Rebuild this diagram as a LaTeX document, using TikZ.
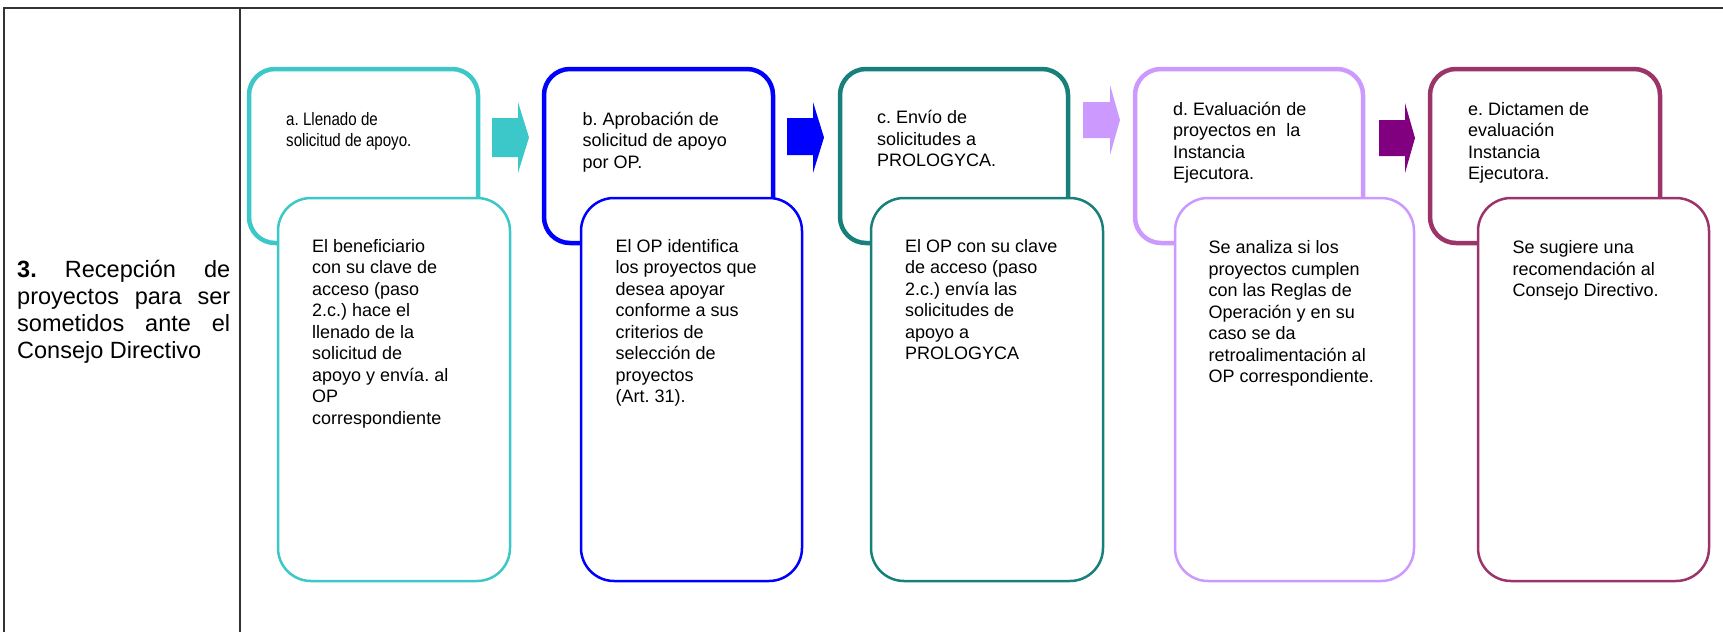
\documentclass[tikz,border=0pt]{standalone}
\usepackage{fontspec}
\setmainfont{Liberation Sans}
\newfontfamily\narrowsans[FakeStretch=0.84]{Liberation Sans}
\definecolor{cTurq}{RGB}{60,200,200}
\definecolor{cBlue}{RGB}{0,0,255}
\definecolor{cTeal}{RGB}{24,128,122}
\definecolor{cLilac}{RGB}{204,153,255}
\definecolor{cPurple}{RGB}{128,0,128}
\definecolor{cMaroon}{RGB}{155,52,104}
\frenchspacing
\begin{document}
\begin{tikzpicture}[x=1pt, y=-1pt,
    topbox/.style={line width=4.5pt, rounded corners=26pt, fill=white},
    subbox/.style={line width=2.5pt, rounded corners=33pt, fill=white},
    steptext/.style={anchor=north west, inner sep=0pt, align=left,
        font=\fontsize{18}{21.5}\selectfont, execute at begin node=\rule{0pt}{17pt}},
    tableline/.style={line width=2pt, draw=black!80}]
        \useasboundingbox (0,0) rectangle (1723,632);
        % table row
        \draw[tableline] (3,8) -- (1723,8);
        \draw[tableline] (4,8) -- (4,632);
        \draw[tableline] (240,8) -- (240,632);
        \node[anchor=north west, inner sep=0pt, text width=213pt, align=justify,
            font=\fontsize{23.5}{27}\selectfont] (etapa) at (17,255)
            {\rule{0pt}{22pt}\textbf{3.} Recepción de\linebreak proyectos para ser\linebreak sometidos ante el\linebreak Consejo Directivo};
        % a. llenado
        \draw[topbox, draw=cTurq] (249,69) rectangle (478,243);
        \draw[subbox, draw=cTurq] (278,198) rectangle (510,581);
        \node[steptext, font=\narrowsans\fontsize{18}{21.5}\selectfont] (llenado) at (286,112)
            {a. Llenado de\\solicitud de apoyo.};
        \node[steptext] (llenadoTxt) at (312,239)
            {El beneficiario\\con su clave de\\acceso (paso\\2.c.) hace el\\llenado de la\\solicitud de\\apoyo y envía. al\\OP\\correspondiente};
        \fill[cTurq] (492,118) -- (518,118) -- (518,102) -- (529,137.5) -- (518,173) -- (518,157) -- (492,157) -- cycle;
        % b. aprobacion
        \draw[topbox, draw=cBlue] (544,69) rectangle (773,243);
        \draw[subbox, draw=cBlue] (581,198) rectangle (802,581);
        \node[steptext] (aprobacion) at (582.5,112)
            {b. Aprobación de\\solicitud de apoyo\\por OP.};
        \node[steptext] (aprobacionTxt) at (615.5,239)
            {El OP identifica\\los proyectos que\\desea apoyar\\conforme a sus\\criterios de\\selección de\\proyectos\\(Art. 31).};
        \fill[cBlue] (787,118) -- (813,118) -- (813,102) -- (824,137.5) -- (813,173) -- (813,155) -- (787,155) -- cycle;
        % c. envio
        \draw[topbox, draw=cTeal] (840,69) rectangle (1068,243);
        \draw[subbox, draw=cTeal] (871,198) rectangle (1103,581);
        \node[steptext] (envio) at (877,110.5)
            {c. Envío de\\solicitudes a\\PROLOGYCA.};
        \node[steptext] (envioTxt) at (905,239)
            {El OP con su clave\\de acceso (paso\\2.c.) envía las\\solicitudes de\\apoyo a\\PROLOGYCA};
        \fill[cLilac] (1083,102) -- (1110,102) -- (1110,85) -- (1120,120) -- (1110,155) -- (1110,138) -- (1083,138) -- cycle;
        % d. evaluacion
        \draw[topbox, draw=cLilac] (1135,69) rectangle (1363,243);
        \draw[subbox, draw=cLilac] (1175,198) rectangle (1414,581);
        \node[steptext] (evaluacion) at (1173,102)
            {d. Evaluación de\\proyectos en\ \ la\\Instancia\\Ejecutora.};
        \node[steptext] (evaluacionTxt) at (1208.5,240.5)
            {Se analiza si los\\proyectos cumplen\\con las Reglas de\\Operación y en su\\caso se da\\retroalimentación al\\OP correspondiente.};
        \fill[cPurple] (1379,120) -- (1405,120) -- (1405,103) -- (1415,138) -- (1405,173) -- (1405,156) -- (1379,156) -- cycle;
        % e. dictamen
        \draw[topbox, draw=cMaroon] (1430,69) rectangle (1660,243);
        \draw[subbox, draw=cMaroon] (1478,198) rectangle (1709,581);
        \node[steptext] (dictamen) at (1468,102)
            {e. Dictamen de\\evaluación\\Instancia\\Ejecutora.};
        \node[steptext] (dictamenTxt) at (1512.5,240.5)
            {Se sugiere una\\recomendación al\\Consejo Directivo.};
\end{tikzpicture}
\end{document}
